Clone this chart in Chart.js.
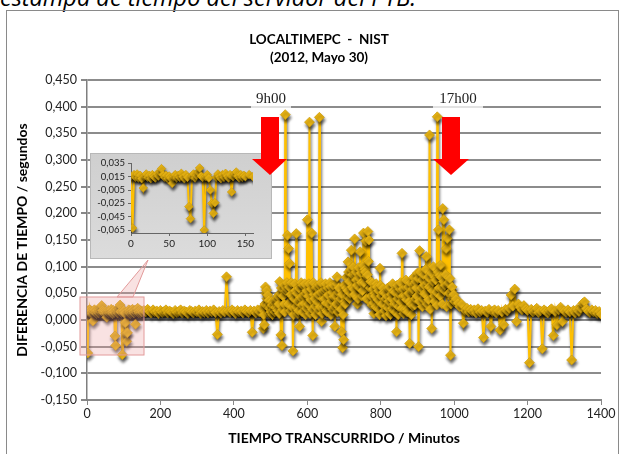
<!DOCTYPE html>
<html>
<head>
<meta charset="utf-8">
<script src="https://cdn.jsdelivr.net/npm/chart.js@4.4.0/dist/chart.umd.min.js"></script>
<style>
  body { margin: 0; background: #fff; }
  #wrap { position: relative; width: 624px; height: 454px; overflow: hidden; }
  #caption { position: absolute; left: 0; top: -14px; font: italic 23.5px "Open Sans", sans-serif; line-height: 23.5px; color: #000; white-space: nowrap; }
  #frame { position: absolute; left: 6px; top: 10px; width: 613px; height: 470px; border: 1.5px solid #8a8a8a; box-sizing: border-box; }
  #main { position: absolute; left: 0; top: 0; }
  svg { position: absolute; left: 0; top: 0; }
  #insetBox { position: absolute; left: 90px; top: 153px; width: 182px; height: 106px;
    background: linear-gradient(#cfcfcf, #dcdcdc); box-shadow: inset 0 0 0 1px #b8b8b8; }
  #inset { position: absolute; left: 0; top: 0; }
  .hour { position: absolute; top: 90px; height: 18px; line-height: 18px; text-align: center;
    font: 15px "Liberation Serif", serif; color: #222; background: rgba(255,255,255,0.75); }
</style>
</head>
<body>
<div id="wrap">
  <div id="caption">estampa de tiempo del servidor del PTB.</div>
  <div id="frame"></div>
  <canvas id="main" width="624" height="454"></canvas>
  <svg width="624" height="454">
    <polygon points="117,297 133,297 148,260" fill="rgba(235,160,160,0.3)" stroke="#e29a9a" stroke-width="1"/>
    <rect x="80" y="297" width="64" height="58" fill="rgba(235,160,160,0.3)" stroke="#e29a9a" stroke-width="1"/>
  </svg>
  <div id="insetBox"><canvas id="inset" width="182" height="106"></canvas></div>
  <svg width="624" height="454">
    <polygon points="261,117 279,117 279,159 287,159 270,175 252,159 261,159" fill="#ff0000"/>
    <polygon points="442,117 460,117 460,159 469,159 451,175 433,159 442,159" fill="#ff0000"/>
  </svg>
  <div class="hour" style="left:251px;width:40px">9h00</div>
  <div class="hour" style="left:433px;width:50px">17h00</div>
</div>
<script>
const FONT = "Lato, 'Liberation Sans', sans-serif";
Chart.defaults.font.family = FONT;

// diferencia de tiempo (s), por tramos de muestreo
const segStart = [0, 155, 480, 481.5, 1005];   // minuto inicial de cada tramo
const segStep = [2, 5, 3, 3, 5];               // minutos entre muestras

const diffA = [ // 0 - 150
  0.016, -0.062, 0.018, 0.014, 0.019, 0.013, 0.017, 0.012, -0.002, 0.016,
  0.019, 0.014, 0.017, 0.012, 0.018, 0.015, 0.013, 0.019, 0.016, 0.022,
  0.027, 0.018, 0.014, 0.017, 0.012, 0.016, 0.013, 0.005, 0.015, 0.018,
  0.013, 0.017, 0.014, 0.020, 0.015, 0.012, 0.018, 0.014, -0.030, -0.048,
  0.016, 0.019, 0.013, 0.017, 0.022, 0.028, 0.016, 0.014, -0.065, 0.015,
  0.018, 0.013, -0.005, -0.025, -0.040, -0.024, 0.014, 0.019, 0.015, 0.012,
  0.018, 0.014, 0.020, 0.016, 0.013, 0.018, -0.008, 0.015, 0.019, 0.022,
  0.016, 0.013, 0.018, 0.014, 0.017, 0.015
];
const diffB = [ // 155 - 475
  0.018, 0.015, 0.020, 0.016, 0.013, 0.019, 0.015, 0.017, 0.012, 0.018,
  0.014, 0.016, 0.019, 0.013, 0.017, 0.015, 0.012, 0.018, 0.014, 0.016,
  0.019, 0.013, 0.017, 0.015, 0.012, 0.018, 0.016, 0.013, 0.017, 0.015,
  0.019, 0.012, 0.016, 0.014, 0.018, 0.013, 0.017, 0.015, 0.019, 0.014,
  -0.027, 0.016, 0.013, 0.018, 0.015, 0.081, 0.017, 0.014, 0.019, 0.016,
  0.012, 0.018, 0.015, 0.017, 0.013, 0.019, 0.016, 0.014, 0.018, -0.023,
  0.017, 0.013, 0.019, 0.015, 0.021
];
const diffC = [ // 480 - 999
  -0.016, -0.009, 0.062, 0.056, 0.047, 0.037, 0.022, 0.015, 0.028, 0.019,
  0.033, 0.024, 0.041, 0.018, 0.030, 0.072, -0.028, -0.048, 0.045, 0.030,
  0.385, 0.060, 0.159, 0.134, 0.106, 0.048, 0.025, -0.058, 0.040, 0.055,
  0.162, 0.035, 0.018, -0.012, 0.042, 0.028, 0.065, 0.031, 0.050, 0.022,
  0.188, 0.045, 0.371, 0.038, 0.163, -0.029, 0.048, 0.026, 0.060, 0.034,
  0.019, 0.380, 0.052, -0.003, 0.040, 0.025, 0.058, 0.032, 0.015, 0.047,
  0.028, 0.063, 0.036, 0.020, 0.044, -0.012, 0.030, 0.081, 0.052, 0.024,
  0.040, -0.022, -0.052, -0.037, 0.035, 0.060, 0.045, 0.109, 0.072, 0.050,
  0.131, 0.085, 0.058, 0.152, 0.090, 0.065, 0.040, 0.078, 0.128, 0.070,
  0.055, 0.163, 0.095, 0.148, 0.082, 0.166, 0.150, 0.060, 0.045, 0.070,
  0.032, 0.050, 0.025, 0.062, 0.038, 0.020, 0.097, 0.045, 0.030, 0.052,
  0.018, 0.040, 0.026, 0.060, 0.035, 0.012, 0.048, 0.022, 0.055, 0.030,
  0.015, -0.022, 0.040, 0.025, 0.058, 0.034, 0.125, 0.045, 0.020, 0.062,
  0.038, 0.015, 0.050, -0.044, 0.030, 0.055, 0.026, 0.068, 0.040, 0.060,
  0.088, -0.050, 0.130, 0.055, 0.075, 0.040, 0.065, 0.048, 0.119, 0.070,
  0.038, 0.347, 0.060, -0.016, 0.072, 0.045, 0.080, 0.052, 0.381, 0.169,
  0.084, 0.103, 0.060, 0.209, 0.188, 0.065, 0.134, 0.153, 0.070, 0.169,
  -0.066, 0.055, 0.040, 0.048
];
const diffC2 = [ // 481.5 - 1000.5, muestras intermedias de la nube
  0.010, 0.030, 0.050, 0.040, 0.028, 0.012, 0.020, 0.035, 0.010, 0.026,
  0.015, 0.038, 0.022, 0.045, 0.012, 0.050, 0.060, 0.020, 0.066, 0.015,
  0.055, 0.070, 0.030, 0.062, 0.018, 0.070, 0.045, 0.010, 0.068, 0.025,
  0.050, 0.012, 0.060, 0.038, 0.070, 0.015, 0.045, 0.068, 0.010, 0.055,
  0.030, 0.068, 0.012, 0.058, 0.020, 0.070, 0.040, 0.010, 0.062, 0.048,
  0.066, 0.025, 0.070, 0.012, 0.055, 0.040, 0.068, 0.018, 0.060, 0.030,
  0.070, 0.010, 0.052, 0.065, 0.025, 0.045, 0.068, 0.015, 0.060, 0.035,
  0.020, 0.048, 0.010, 0.065, 0.030, 0.080, 0.055, 0.090, 0.040, 0.095,
  0.062, 0.100, 0.048, 0.085, 0.075, 0.030, 0.098, 0.060, 0.088, 0.045,
  0.102, 0.070, 0.090, 0.040, 0.085, 0.110, 0.035, 0.072, 0.028, 0.058,
  0.012, 0.045, 0.068, 0.022, 0.055, 0.010, 0.065, 0.030, 0.060, 0.015,
  0.050, 0.008, 0.045, 0.022, 0.062, 0.010, 0.040, 0.068, 0.018, 0.052,
  0.030, 0.065, 0.010, 0.048, 0.070, 0.022, 0.058, 0.012, 0.045, 0.075,
  0.020, 0.062, 0.035, 0.070, 0.010, 0.058, 0.080, 0.028, 0.072, 0.045,
  0.078, 0.035, 0.090, 0.060, 0.025, 0.085, 0.050, 0.095, 0.030, 0.080,
  0.062, 0.020, 0.088, 0.055, 0.100, 0.035, 0.075, 0.028, 0.090, 0.060,
  0.045, 0.080, 0.030, 0.072, 0.055, 0.085, 0.025, 0.068, 0.050, 0.078,
  0.030, 0.062, 0.045, 0.035
];
const diffD = [ // 1005 - 1400
  0.040, 0.032, 0.025, 0.030, -0.006, 0.018, 0.022, 0.015, 0.020, 0.016,
  0.019, 0.013, 0.021, 0.015, 0.018, -0.033, 0.017, 0.014, 0.020, -0.012,
  0.016, 0.019, 0.013, 0.018, -0.019, 0.015, -0.009, 0.020, 0.017, 0.022,
  0.047, 0.026, 0.058, -0.003, 0.030, 0.024, 0.019, 0.027, 0.021, 0.018,
  -0.080, 0.020, 0.015, 0.018, 0.022, 0.014, 0.017, -0.054, 0.019, 0.016,
  0.013, 0.018, 0.021, -0.029, 0.016, -0.009, 0.019, 0.024, -0.003, 0.017,
  0.014, 0.019, 0.015, -0.075, 0.018, 0.013, 0.020, 0.016, 0.022, 0.031,
  0.034, 0.021, 0.017, 0.014, 0.019, 0.015, 0.018, 0.012, 0.016, 0.011
];
const insetYTicks = [-0.065, -0.045, -0.025, -0.005, 0.015, 0.035];

const points = [];
[diffA, diffB, diffC, diffC2, diffD].forEach((vals, s) => {
  vals.forEach((v, i) => points.push({ x: segStart[s] + i * segStep[s], y: v }));
});
points.sort((a, b) => a.x - b.x);

const comma = v => (Math.abs(v) < 1e-9 ? 0 : v).toFixed(3).replace('.', ',');
const plain = v => String(v);

const shadow = {
  id: 'shadow',
  beforeDatasetsDraw(chart) {
    const c = chart.ctx;
    c.save();
    c.shadowColor = 'rgba(0,0,0,0.6)';
    c.shadowBlur = 3;
    c.shadowOffsetX = 1;
    c.shadowOffsetY = 3;
  },
  afterDatasetsDraw(chart) { chart.ctx.restore(); }
};

const serie = (data, r) => ({
  data: data,
  xAxisID: 'x', yAxisID: 'y',
  borderColor: '#FFC000',
  borderWidth: 2,
  pointStyle: 'rectRot',
  pointRadius: r,
  pointBackgroundColor: '#EAB514',
  pointBorderColor: '#C99A0A',
  pointBorderWidth: 0.7,
  tension: 0
});

// grafico principal
new Chart(document.getElementById('main'), {
  type: 'line',
  data: { datasets: [serie(points, 5)] },
  options: {
    responsive: false,
    animation: false,
    layout: { padding: { left: 14, top: 0, right: 0, bottom: 0 } },
    plugins: {
      legend: { display: false },
      tooltip: { enabled: false },
      title: {
        display: true,
        text: ['LOCALTIMEPC  -  NIST', '(2012, Mayo 30)'],
        color: '#000',
        font: { size: 13.5, weight: 'bold', lineHeight: 18 / 13.5 },
        padding: { top: 31, bottom: 13 }
      }
    },
    scales: {
      x: {
        type: 'linear', min: 0, max: 1400,
        ticks: { stepSize: 200, includeBounds: false, color: '#222', font: { size: 12.5 }, padding: 1, maxRotation: 0, callback: plain },
        grid: { drawOnChartArea: false, tickLength: 5, tickColor: '#888' },
        border: { color: '#888', width: 2 },
        title: { display: true, text: 'TIEMPO TRANSCURRIDO / Minutos', color: '#000',
          font: { size: 14, weight: 'bold' }, padding: { top: 0, bottom: 7.6 } },
        afterFit: s => { s.height = 54; }
      },
      y: {
        min: -0.15, max: 0.45,
        ticks: { stepSize: 0.05, color: '#222', font: { size: 12.5 }, padding: 4, callback: comma },
        grid: { color: '#8c8c8c', lineWidth: 2, tickLength: 6, tickColor: '#888' },
        border: { color: '#7f7f7f', width: 1.5 },
        title: { display: true, text: 'DIFERENCIA DE TIEMPO / segundos', color: '#000',
          font: { size: 14, weight: 'bold' }, padding: { top: 0, bottom: 0 } },
        afterFit: s => { s.width = 73; }
      },
      pad: {
        type: 'linear', position: 'right',
        ticks: { display: false }, grid: { display: false }, border: { display: false },
        afterFit: s => { s.width = 23; }
      }
    }
  },
  plugins: [shadow]
});

// detalle 0 - 150 min
new Chart(document.getElementById('inset'), {
  type: 'line',
  data: { datasets: [serie(points.filter(p => p.x <= 160), 4.3)] },
  options: {
    responsive: false,
    animation: false,
    layout: { padding: { left: 0, top: 10, right: 19, bottom: 0 } },
    plugins: { legend: { display: false }, tooltip: { enabled: false } },
    scales: {
      x: {
        type: 'linear', min: 0, max: 160,
        ticks: { stepSize: 50, includeBounds: false, color: '#222', font: { size: 10 }, padding: 2, maxRotation: 0, callback: plain },
        grid: { drawOnChartArea: false, tickLength: 3, tickColor: '#666' },
        border: { color: '#666', width: 1 },
        afterFit: s => { s.height = 26; }
      },
      y: {
        min: -0.0695, max: 0.0355,
        afterBuildTicks: s => { s.ticks = insetYTicks.map(v => ({ value: v })); },
        ticks: { autoSkip: false, color: '#222', font: { size: 9.5 }, padding: 3, callback: comma },
        grid: { drawOnChartArea: false, tickLength: 3, tickColor: '#666' },
        border: { color: '#666', width: 1 },
        afterFit: s => { s.width = 41; }
      }
    }
  },
  plugins: [shadow]
});
</script>
</body>
</html>
